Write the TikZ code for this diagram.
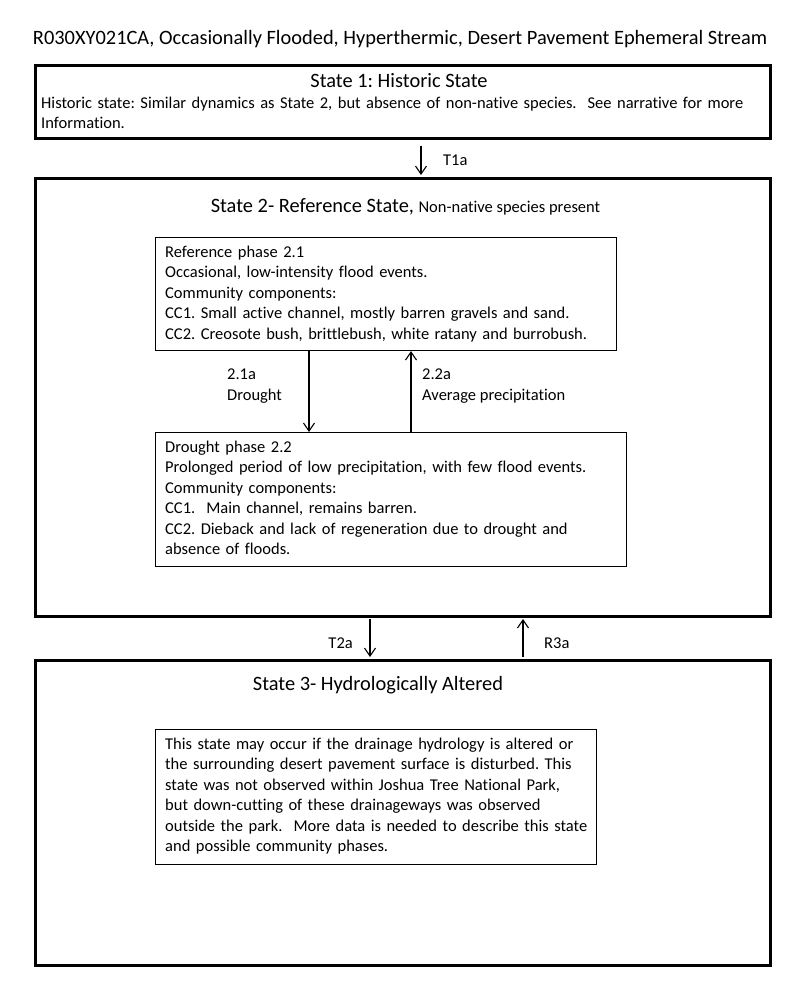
\documentclass[tikz,border=0pt]{standalone}
\usepackage{fontspec}
\setmainfont[Ligatures=NoCommon]{Carlito}
\usetikzlibrary{arrows.meta,calc}
\frenchspacing
\tikzset{
  outer/.style={draw, line width=3pt, inner sep=0pt, anchor=north west},
  phase/.style={draw, line width=1.1pt, inner sep=0pt, anchor=north west},
  body/.style={font=\fontsize{16.5}{20.5}\selectfont, inner sep=0pt, anchor=base west, align=left},
  head/.style={font=\fontsize{20.4}{24}\selectfont, inner sep=0pt, anchor=center},
  arr/.style={-{Straight Barb[length=8pt,width=11pt]}, line width=1.1pt},
}
\begin{document}
\begin{tikzpicture}[x=1pt,y=-1pt]
\useasboundingbox[fill=white] (0,0) rectangle (800,985);

% title
\node[head] (title) at (400,39) {R030XY021CA, Occasionally Flooded, Hyperthermic, Desert Pavement Ephemeral Stream};

% State 1
\node[outer, minimum width=735pt, minimum height=73pt] (s1) at (33.5,63.5) {};
\node[head] (s1t) at (399,81) {State 1: Historic State};
\node[body, text width=725pt] (s1b) at (41,108) {Historic state: Similar dynamics as State 2, but absence of non-native species.\ \ See narrative for more\\Information.};

% State 2
\node[outer, minimum width=735pt, minimum height=438pt] (s2) at (33.5,176.5) {};
\node[head] (s2t) at (405.5,207) {State 2- Reference State, {\fontsize{16.5}{20.5}\selectfont Non-native species present}};

\node[phase, minimum width=461pt, minimum height=113pt] (p21) at (154.5,237) {};
\node[body, text width=445pt] (p21b) at (165,257) {Reference phase 2.1\\Occasional, low-intensity flood events.\\Community components:\\CC1. Small active channel, mostly barren gravels and sand.\\CC2. Creosote bush, brittlebush, white ratany and burrobush.};

\node[phase, minimum width=471pt, minimum height=134pt] (p22) at (154.5,432) {};
\node[body, text width=455pt] (p22b) at (165,452) {Drought phase 2.2\\Prolonged period of low precipitation, with few flood events.\\Community components:\\CC1.\ \ Main channel, remains barren.\\CC2. Dieback and lack of regeneration due to drought and\\absence of floods.};

% State 3
\node[outer, minimum width=735pt, minimum height=305pt] (s3) at (33.5,658.5) {};
\node[head] (s3t) at (378,685) {State 3- Hydrologically Altered};
\node[phase, minimum width=441pt, minimum height=135pt] (p3) at (154.5,729) {};
\node[body, text width=425pt] (p3b) at (165,749) {This state may occur if the drainage hydrology is altered or\\the surrounding desert pavement surface is disturbed. This\\state was not observed within Joshua Tree National Park,\\but down-cutting of these drainageways was observed\\outside the park.\ \ More data is needed to describe this state\\and possible community phases.};

% connectors
\coordinate (t1s) at ($(s1.south west)+(387.5,6)$);
\draw[arr, shorten >=1.5pt] (t1s) -- (t1s |- s2.north);
\node[body] (t1l) at (443,165) {T1a};

\coordinate (d1) at ($(p21.south west)+(154.5,0)$);
\draw[arr] (d1) -- (d1 |- p22.north);
\node[body] (d1l) at (227,400) {2.1a\\Drought};

\coordinate (u1) at ($(p22.north west)+(256.5,0)$);
\draw[arr] (u1) -- (u1 |- p21.south);
\node[body] (u1l) at (422,400) {2.2a\\Average precipitation};

\coordinate (t2s) at ($(s2.south west)+(336.5,1.5)$);
\draw[arr, shorten >=1.5pt] (t2s) -- (t2s |- s3.north);
\node[body, anchor=base east] (t2l) at (353,648) {T2a};

\coordinate (r3s) at ($(s3.north west)+(489.5,-1.5)$);
\draw[arr, shorten >=1.5pt] (r3s) -- (r3s |- s2.south);
\node[body] (r3l) at (544,648) {R3a};
\end{tikzpicture}
\end{document}
